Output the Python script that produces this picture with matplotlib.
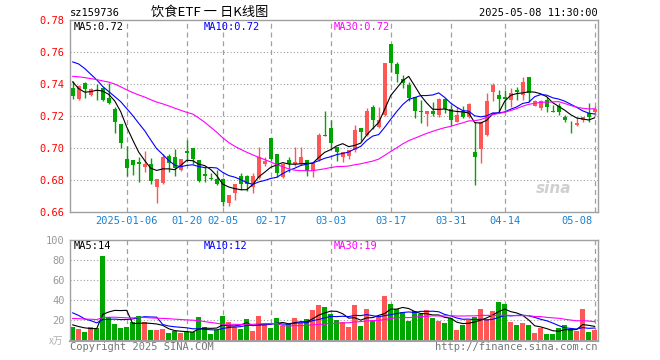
import numpy as np
import pandas as pd
import matplotlib
matplotlib.use('Agg')
import matplotlib.pyplot as plt

# daily bars, 2024-12-23 .. 2025-05-08
opens = [0.7375, 0.7308, 0.741, 0.7335, 0.7362, 0.738, 0.7316, 0.7246, 0.7152, 0.6933,
         0.6927, 0.6913, 0.6885, 0.6902, 0.676, 0.6781, 0.6954, 0.6944, 0.6865, 0.6985,
         0.7002, 0.6927, 0.6838, 0.6817, 0.6808, 0.6808, 0.666, 0.6719, 0.6827, 0.6827,
         0.676, 0.6813, 0.6902, 0.7063, 0.6965, 0.6819, 0.6927, 0.6902, 0.6902, 0.6927,
         0.686, 0.6927, 0.7081, 0.7129, 0.701, 0.6948, 0.6954, 0.699, 0.7125, 0.7083,
         0.726, 0.7135, 0.7208, 0.7652, 0.7525, 0.7433, 0.7396, 0.7323, 0.7231, 0.7213,
         0.7233, 0.7208, 0.7308, 0.7246, 0.7167, 0.7233, 0.7198, 0.6975, 0.6996, 0.7083,
         0.735, 0.7333, 0.7323, 0.7302, 0.7365, 0.7333, 0.7444, 0.7267, 0.725, 0.7302,
         0.7231, 0.7267, 0.7198, 0.7158, 0.7146, 0.7177, 0.7219, 0.7229]
closes = [0.7329, 0.7389, 0.737, 0.7372, 0.7356, 0.7302, 0.7285, 0.7167, 0.7035, 0.6879,
          0.6896, 0.6904, 0.6902, 0.6798, 0.6808, 0.6944, 0.6906, 0.6875, 0.6931, 0.6969,
          0.6931, 0.6798, 0.683, 0.681, 0.6777, 0.6667, 0.6708, 0.6777, 0.6777, 0.6777,
          0.6827, 0.6948, 0.6923, 0.6933, 0.6848, 0.6902, 0.6902, 0.6917, 0.6948, 0.686,
          0.6906, 0.7083, 0.7077, 0.7031, 0.6979, 0.6975, 0.699, 0.7115, 0.7104, 0.7233,
          0.7177, 0.7177, 0.7531, 0.7531, 0.7463, 0.741, 0.7313, 0.7233, 0.7229, 0.7233,
          0.7213, 0.7308, 0.7246, 0.7177, 0.7208, 0.7198, 0.7275, 0.6944, 0.7163, 0.7296,
          0.7396, 0.7308, 0.7308, 0.7348, 0.735, 0.7417, 0.7344, 0.7296, 0.7296, 0.726,
          0.7229, 0.7229, 0.7177, 0.7156, 0.7156, 0.7198, 0.7198, 0.7246]
highs = [0.7423, 0.7396, 0.7412, 0.7375, 0.7405, 0.7385, 0.7406, 0.726, 0.7152, 0.7015,
         0.6927, 0.6948, 0.6985, 0.6938, 0.6808, 0.6965, 0.6965, 0.6994, 0.6935, 0.7052,
         0.7002, 0.6927, 0.689, 0.6844, 0.6865, 0.6813, 0.6708, 0.6777, 0.6844, 0.6833,
         0.6844, 0.7006, 0.6944, 0.7063, 0.6965, 0.6906, 0.6948, 0.701, 0.701, 0.6927,
         0.6906, 0.7094, 0.7235, 0.7177, 0.701, 0.6979, 0.699, 0.7146, 0.7125, 0.725,
         0.7271, 0.726, 0.7531, 0.7652, 0.7542, 0.7458, 0.7417, 0.7323, 0.7302, 0.7233,
         0.7292, 0.7313, 0.7313, 0.7271, 0.726, 0.7267, 0.7281, 0.7167, 0.7171, 0.7344,
         0.7406, 0.7365, 0.7365, 0.7379, 0.7385, 0.7448, 0.7444, 0.7302, 0.7302, 0.7323,
         0.7271, 0.7281, 0.7208, 0.7171, 0.7198, 0.7198, 0.7281, 0.7267]
lows = [0.7308, 0.7302, 0.7315, 0.733, 0.7305, 0.7296, 0.7279, 0.7098, 0.70, 0.6827,
        0.6833, 0.6792, 0.6854, 0.6775, 0.666, 0.6777, 0.6854, 0.6827, 0.6856, 0.6917,
        0.6902, 0.6792, 0.6792, 0.68, 0.6771, 0.6642, 0.6642, 0.6677, 0.674, 0.6733,
        0.6723, 0.6808, 0.689, 0.692, 0.6823, 0.6813, 0.6854, 0.689, 0.6896, 0.6827,
        0.6823, 0.6923, 0.7075, 0.6994, 0.6921, 0.6913, 0.6933, 0.6979, 0.7046, 0.7079,
        0.7121, 0.7129, 0.7204, 0.7475, 0.7417, 0.7375, 0.7296, 0.7188, 0.7156, 0.7142,
        0.72, 0.7198, 0.7219, 0.7142, 0.7163, 0.7188, 0.7192, 0.6771, 0.6906, 0.7079,
        0.7298, 0.7219, 0.724, 0.726, 0.73, 0.7302, 0.7292, 0.7263, 0.724, 0.7229,
        0.7225, 0.7208, 0.7163, 0.7094, 0.714, 0.7163, 0.7163, 0.7204]
volumes = [13.3, 11.5, 8.6, 13.5, 12.3, 84.5, 23.3, 16.6, 12.6, 13.6,
           18.3, 24.6, 18.3, 10.6, 10.6, 11.6, 7.6, 9.0, 7.6, 8.6,
           8.6, 23.5, 13.3, 6.6, 10.0, 24.3, 18.6, 13.3, 11.3, 21.3,
           9.3, 24.3, 16.6, 12.3, 22.3, 14.6, 17.3, 22.3, 17.3, 21.3,
           30.3, 35.3, 33.3, 26.3, 20.3, 18.3, 13.5, 35.3, 14.3, 31.3,
           19.8, 24.8, 44.3, 36.3, 31.3, 28.3, 19.3, 29.3, 26.3, 30.3,
           22.3, 19.3, 17.3, 22.3, 10.3, 15.3, 20.8, 23.8, 31.3, 21.8,
           29.3, 38.3, 36.3, 18.3, 15.3, 17.3, 15.3, 7.3, 12.6, 6.9,
           6.9, 12.3, 15.3, 11.3, 9.3, 31.3, 8.3, 10.3]
# closes / volumes before the visible window, only feeding the moving averages
prev_closes = [0.748, 0.752, 0.756, 0.755, 0.754, 0.751, 0.753, 0.755,
               0.745, 0.740, 0.736, 0.731, 0.728, 0.726, 0.727, 0.729, 0.730, 0.733, 0.735, 0.726,
               0.752, 0.765, 0.773, 0.7705, 0.772,
               0.760, 0.748, 0.7356, 0.731]
prev_volumes = [18, 22, 16, 25, 20, 17, 15, 21, 24, 19, 17, 14, 23, 20, 18, 16, 22, 19, 21, 17,
                38, 42, 31, 35, 52,
                20, 15, 17, 12.7]
date_idx = [9, 19, 25, 33, 43, 53, 63, 72, 87]
date_labels = ['2025-01-06', '01-20', '02-05', '02-17', '03-03', '03-17', '03-31', '04-14', '05-08']
price_ticks = [0.66, 0.68, 0.70, 0.72, 0.74, 0.76, 0.78]
vol_ticks = [20, 40, 60, 80, 100]

W, H = 660, 360
RED, GREEN = '#ff5656', '#00a600'
GRAY = '#a0a0a0'
MONO = 'DejaVu Sans Mono'
plt.rcParams['font.family'] = ['Noto Sans CJK SC', 'DejaVu Sans']

o = np.array(opens); c = np.array(closes); hi = np.array(highs); lo = np.array(lows)
v = np.array(volumes)
n = len(c)
x = np.arange(n)
up = c >= o
cols = np.where(up, RED, GREEN)

cs = pd.Series(prev_closes + closes)
vs = pd.Series(prev_volumes + volumes)
ma = {k: cs.rolling(k).mean().values[-n:] for k in (5, 10, 30)}
vma = {k: vs.rolling(k).mean().values[-n:] for k in (5, 10, 30)}
ma_cols = {5: 'k', 10: '#0000ff', 30: '#ff00ff'}

fig = plt.figure(figsize=(W / 100, H / 100), dpi=100)
fig.patch.set_facecolor('white')

def box(l, t, r, b):
    return [l / W, 1 - b / H, (r - l) / W, (b - t) / H]

axp = fig.add_axes(box(70, 20.3, 598, 212.3))
axv = fig.add_axes(box(70, 240.3, 598, 340.5))

for ax in (axp, axv):
    ax.set_xlim(-0.45, n - 0.45)
    for s in ax.spines.values():
        s.set_color(GRAY)
        s.set_linewidth(1)
    ax.set_xticks([])
    ax.tick_params(axis='y', length=0, pad=4)
    for xi in date_idx:
        ax.axvline(xi, color=GRAY, lw=0.9, ls=(0, (4, 3)), zorder=0)

# price panel
axp.set_ylim(0.66, 0.78)
axp.set_yticks(price_ticks)
axp.set_yticklabels(['%.2f' % t for t in price_ticks], color='#ff0000', family=MONO, fontsize=7.5)
for t in price_ticks[1:-1]:
    axp.axhline(t, color=GRAY, lw=0.8, ls=(0, (1, 2)), zorder=0)
axp.vlines(x, lo, hi, colors=cols, lw=1, zorder=2)
body = np.maximum(np.abs(c - o), 0.0004)
axp.bar(x, body, bottom=np.minimum(o, c), width=0.72, color=cols, lw=0, zorder=3)
for k in (5, 10, 30):
    axp.plot(x, ma[k], color=ma_cols[k], lw=0.8, zorder=4)
axp.text(0.915, 0.1, 'sina', transform=axp.transAxes, fontsize=11,
         color='#d0d0d0', fontweight='bold', style='italic', ha='center', family='DejaVu Sans')

# volume panel
axv.set_ylim(0, 100)
axv.set_yticks(vol_ticks)
axv.set_yticklabels([str(t) for t in vol_ticks], color='#999999', family=MONO, fontsize=7.5)
for t in vol_ticks[:-1]:
    axv.axhline(t, color=GRAY, lw=0.8, ls=(0, (1, 2)), zorder=0)
axv.bar(x, v, width=0.75, color=cols, lw=0, zorder=2)
for k in (5, 10, 30):
    axv.plot(x, vma[k], color=ma_cols[k], lw=0.8, zorder=3)
axv.spines['bottom'].set_linewidth(1.5)

def ftext(px, py, s, **kw):
    kw.setdefault('family', MONO)
    kw.setdefault('fontsize', 7.5)
    kw.setdefault('va', 'center')
    fig.text(px / W, 1 - py / H, s, **kw)

ftext(70, 13, 'sz159736')
ftext(210, 12, '饮食ETF 一 日K线图', ha='center', family=['Noto Sans CJK SC', 'DejaVu Sans'], fontsize=9.5)
ftext(598, 13, '2025-05-08 11:30:00', ha='right')

last = lambda a: '%.2f' % a[-1]
ftext(74, 27, 'MA5:' + last(ma[5]), color='k')
ftext(204, 27, 'MA10:' + last(ma[10]), color='#0000ff')
ftext(334, 27, 'MA30:' + last(ma[30]), color='#ff00ff')
ftext(74, 246, 'MA5:%d' % round(vma[5][-1]), color='k')
ftext(204, 246, 'MA10:%d' % round(vma[10][-1]), color='#0000ff')
ftext(334, 246, 'MA30:%d' % round(vma[30][-1]), color='#ff00ff')

for xi, lab in zip(date_idx, date_labels):
    px = min(70 + (xi + 0.45) * 528 / n, 577)
    ftext(px, 221, lab, ha='center', color='#1a80d0')

ftext(56, 341, 'x万', ha='center', color='#b0b0b0', family=['Noto Sans CJK SC', 'DejaVu Sans'], fontsize=7)
ftext(70, 347, 'Copyright 2025 SINA.COM', color='#777777')
ftext(598, 347, 'http://finance.sina.com.cn', ha='right', color='#777777')

fig.savefig('out.png', dpi=100, facecolor='white')
